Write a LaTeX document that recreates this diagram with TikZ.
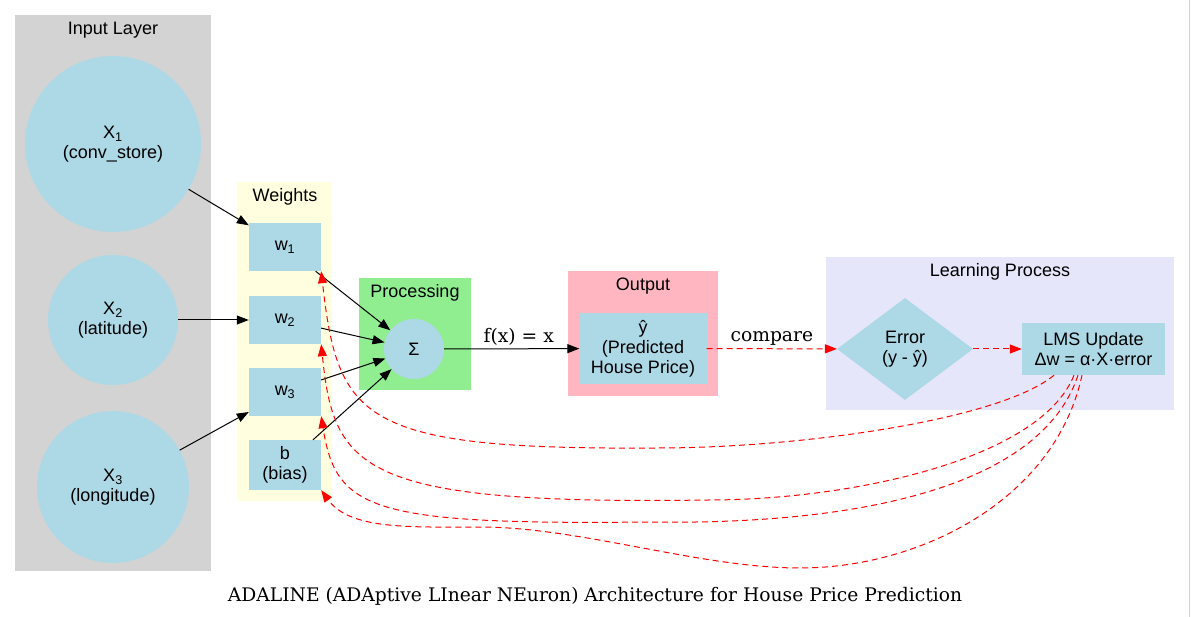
\documentclass[tikz,border=0pt]{standalone}
\usepackage{fontspec}
\setmainfont{Liberation Sans}
\newfontfamily\serifcap{DejaVu Serif}
\usetikzlibrary{arrows.meta,shapes.geometric}
\definecolor{lblue}{HTML}{ADD8E6}
\definecolor{cgray}{HTML}{D3D3D3}
\definecolor{cyellow}{HTML}{FFFFE0}
\definecolor{cgreen}{HTML}{90EE90}
\definecolor{cpink}{HTML}{FFB6C1}
\definecolor{clav}{HTML}{E6E6FA}
\begin{document}
\begin{tikzpicture}[x=1pt,y=-1pt,
  every node/.style={font=\fontsize{18}{20}\selectfont, align=center, inner sep=0pt, text=black},
  cltitle/.style={anchor=center},
  nbox/.style={rectangle, fill=lblue, minimum width=72pt, minimum height=48pt},
  ncirc/.style={circle, fill=lblue},
  arr/.style={-{Triangle[length=12pt,width=9pt]}, line width=1pt, black},
  fb/.style={-{Triangle[length=12pt,width=9pt]}, line width=1pt, red, dash pattern=on 6pt off 4pt},
  elab/.style={font=\serifcap\fontsize{18.7}{20}\selectfont, text=black}
]
\useasboundingbox (0,0) rectangle (1191,617);
\fill[white] (0,0) rectangle (1191,617);
\draw[gray!35, line width=0.8pt] (1189,0) -- (1189,617);
% clusters
\fill[cgray] (15,15) rectangle (211,571);
\node[cltitle] (tin) at (113,30) {Input Layer};
\fill[cyellow] (237,182) rectangle (332,501);
\node[cltitle] (tw) at (285,197) {Weights};
\fill[cgreen] (359,278) rectangle (471,390);
\node[cltitle] (tp) at (415,293) {Processing};
\fill[cpink] (568,271) rectangle (718,396);
\node[cltitle] (to) at (643,286) {Output};
\fill[clav] (826,257) rectangle (1174,410);
\node[cltitle] (tl) at (1000,272) {Learning Process};
% nodes
\node[ncirc, minimum size=176pt] (x1) at (113,144) {X\textsubscript{1}\\(conv\_store)};
\node[ncirc, minimum size=130pt] (x2) at (113,320) {X\textsubscript{2}\\(latitude)};
\node[ncirc, minimum size=152pt] (x3) at (113,487) {X\textsubscript{3}\\(longitude)};
\node[nbox] (w1) at (285,247) {w\textsubscript{1}};
\node[nbox] (w2) at (285,320) {w\textsubscript{2}};
\node[nbox] (w3) at (285,392) {w\textsubscript{3}};
\node[nbox, minimum height=50pt] (b) at (285,465) {b\\(bias)};
\node[ncirc, minimum size=60pt] (sum) at (414,349) {Σ};
\node[nbox, minimum width=127pt, minimum height=71pt] (yhat) at (643,348.5) {ŷ\\(Predicted\\House Price)};
\node[diamond, fill=lblue, minimum width=136pt, minimum height=102pt] (err) at (905,349) {Error\\(y - ŷ)};
\node[nbox, minimum width=143pt, minimum height=52pt] (lms) at (1093.5,349) {LMS Update\\Δw = α·X·error};
% edges
\draw[arr] (x1) -- (w1);
\draw[arr] (x2) -- (w2);
\draw[arr] (x3) -- (w3);
\draw[arr] (w1) -- (sum);
\draw[arr] (w2) -- (sum);
\draw[arr] (w3) -- (sum);
\draw[arr] (b) -- (sum);
\draw[arr] (sum) -- node[elab, above=3pt, xshift=7pt] {f(x) = x} (yhat);
\draw[fb] (yhat) -- node[elab, above=3pt] {compare} (err);
\draw[fb] (err) -- (lms);
% feedback
\draw[fb] ([xshift=-39.5pt]lms.south) .. controls (1000,420) and (800,448) .. (657,448)
  .. controls (360,450) and (338,420) .. (w1.south east);
\draw[fb] ([xshift=-19.5pt]lms.south) .. controls (1040,460) and (850,500) .. (708,500)
  .. controls (360,505) and (334,470) .. (w2.south east);
\draw[fb] ([xshift=-15.5pt]lms.south) .. controls (1040,490) and (850,525) .. (650,522)
  .. controls (370,525) and (336,510) .. (w3.south east);
\draw[fb] ([xshift=-11.5pt]lms.south) .. controls (1055,500) and (920,568) .. (800,568)
  .. controls (700,568) and (580,527) .. (480,527)
  .. controls (410,527) and (350,530) .. (b.south east);
% caption
\node[elab] (cap) at (595,596) {ADALINE (ADAptive LInear NEuron) Architecture for House Price Prediction};
\end{tikzpicture}
\end{document}
